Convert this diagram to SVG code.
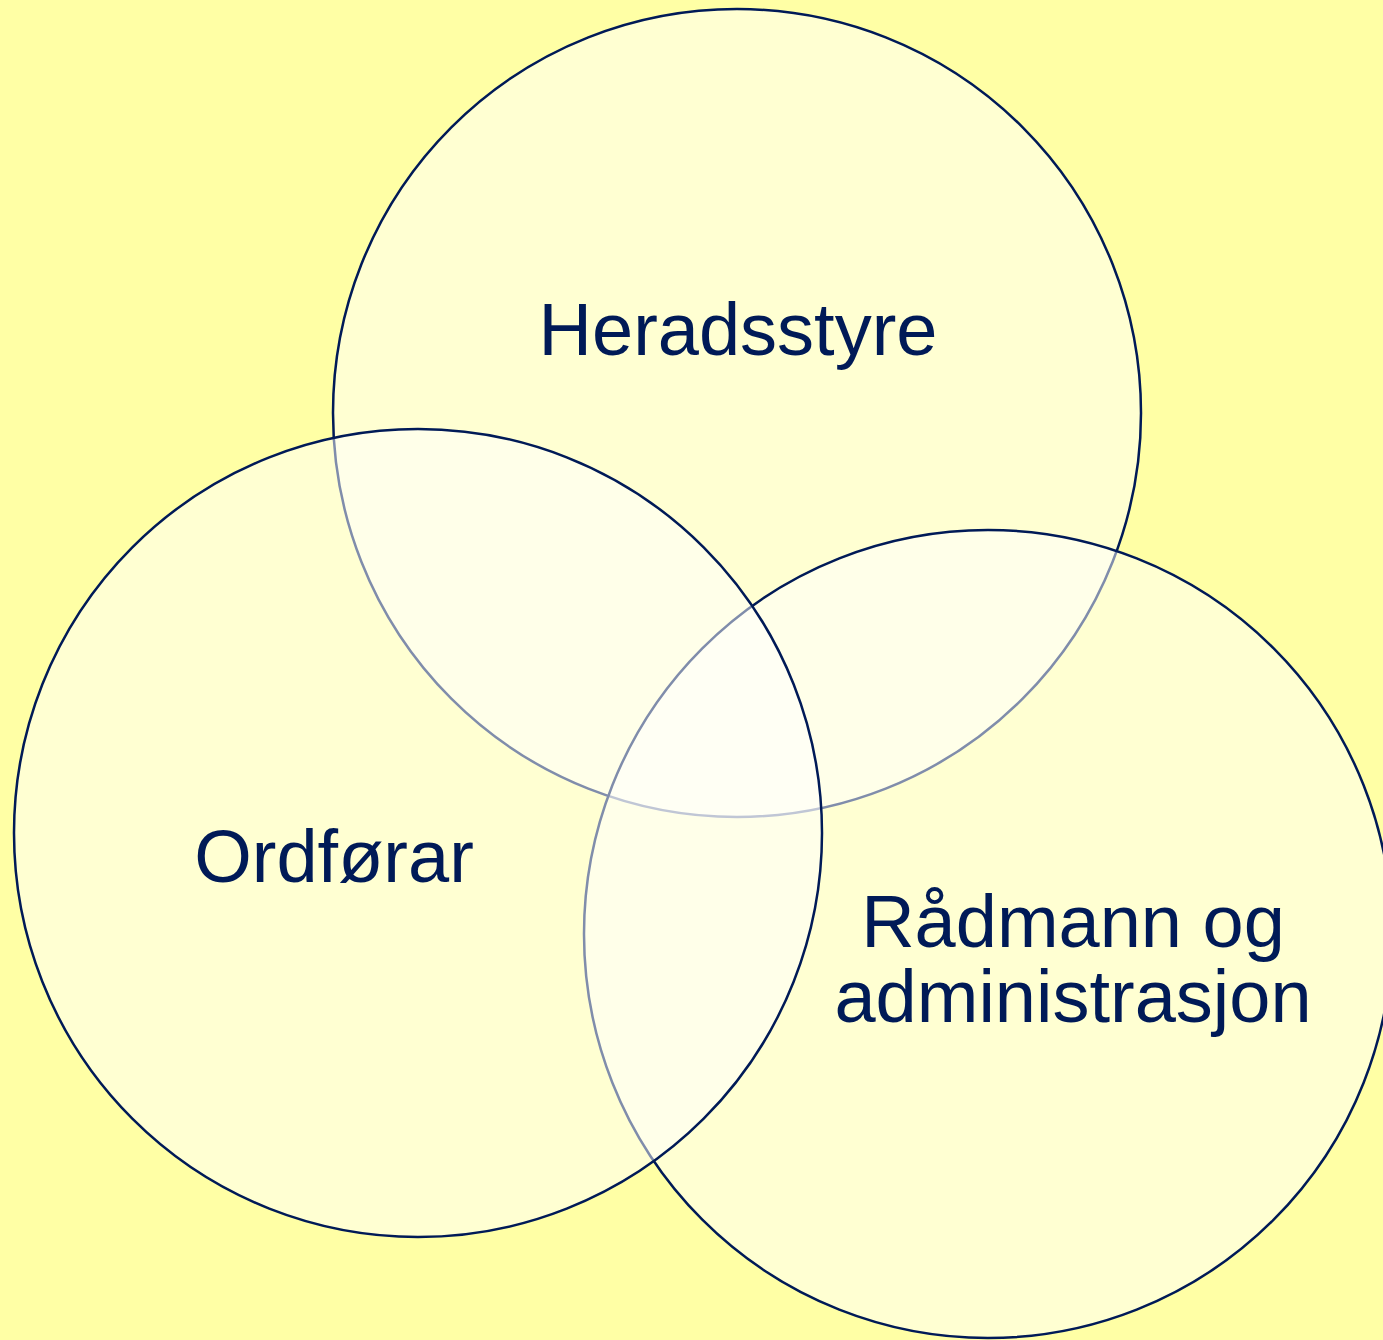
<svg xmlns="http://www.w3.org/2000/svg" width="1383" height="1340" viewBox="0 0 1383 1340">
<style>
.c{fill:#ffffff;fill-opacity:0.5;stroke:#001a57;stroke-width:2.5}
.t{font-family:"Liberation Sans",Arial,sans-serif;font-size:74px;fill:#001a57;text-anchor:middle}
</style>
<rect width="1383" height="1340" fill="#ffffa5"/>
<g id="heradsstyre">
<circle class="c" cx="737" cy="413" r="404"/>
<text class="t" x="738" y="355">Heradsstyre</text>
</g>
<g id="radmann">
<circle class="c" cx="988" cy="934" r="404"/>
<text class="t" x="1073" y="947">Rådmann og</text>
<text class="t" x="1073" y="1022">administrasjon</text>
</g>
<g id="ordforar">
<circle class="c" cx="418" cy="833" r="404"/>
<text class="t" x="334" y="882">Ordførar</text>
</g>
<g id="connectors"/>
</svg>
